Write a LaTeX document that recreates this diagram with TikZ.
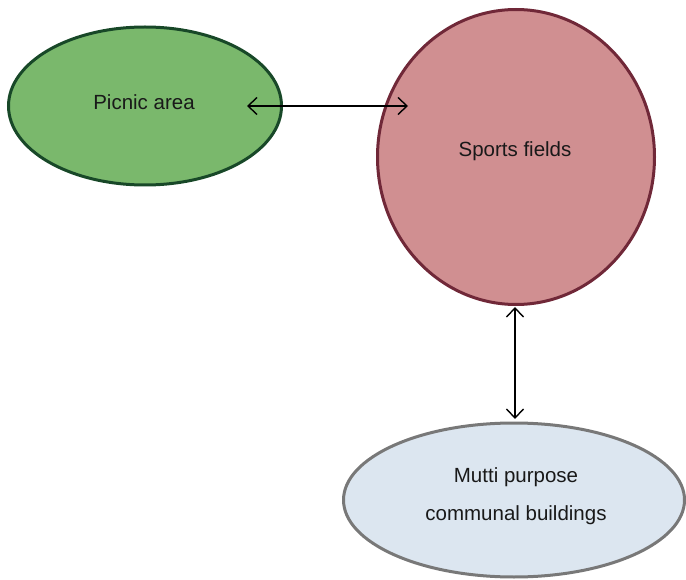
\documentclass[tikz,border=0pt]{standalone}
\usepackage{fontspec}
\setmainfont{Liberation Sans}
\usetikzlibrary{shapes.geometric,arrows.meta}
\definecolor{gfill}{RGB}{122,184,108}
\definecolor{gdraw}{RGB}{24,72,40}
\definecolor{rfill}{RGB}{208,143,145}
\definecolor{rdraw}{RGB}{112,40,56}
\definecolor{bfill}{RGB}{220,230,240}
\definecolor{bdraw}{RGB}{120,120,120}
\definecolor{txt}{RGB}{25,25,25}
\tikzset{
  blob/.style={ellipse, inner sep=0pt, line width=3pt},
  lbl/.style={font=\fontsize{20.5}{38}\selectfont, text=txt, align=center, inner sep=0pt},
  link/.style={line width=1.4pt, {Straight Barb[length=9pt,width=17pt,line width=1.4pt]}-{Straight Barb[length=9pt,width=17pt,line width=1.4pt]}}
}
\begin{document}
\begin{tikzpicture}[x=1pt,y=-1pt]
\useasboundingbox (0,0) rectangle (686,580);
\node[blob, fill=gfill, draw=gdraw, minimum width=273pt, minimum height=158pt] (picnic) at (145,106) {};
\node[blob, fill=rfill, draw=rdraw, minimum width=277pt, minimum height=295pt] (sports) at (516,157) {};
\node[blob, fill=bfill, draw=bdraw, minimum width=341pt, minimum height=154pt] (multi) at (514,500) {};
\node[lbl] (tpicnic) at (144,102) {Picnic area};
\node[lbl] (tsports) at (515,151) {Sports fields};
\node[lbl] (tmulti) at (516,496) {Mutti purpose\\communal buildings};
\coordinate (h1) at (247,106);
\coordinate (h2) at (408,106);
\coordinate (v1) at (515,307);
\coordinate (v2) at (515,419);
\draw[link] (h1) -- (h2);
\draw[link] (v1) -- (v2);
\end{tikzpicture}
\end{document}
